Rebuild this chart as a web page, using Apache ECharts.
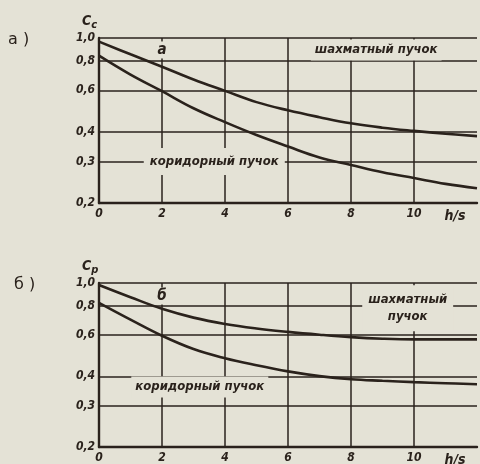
<!DOCTYPE html>
<html><head><meta charset="utf-8">
<script src="https://cdn.jsdelivr.net/npm/echarts@6/dist/echarts.min.js"></script>
<style>html,body{margin:0;padding:0;background:#e4e2d6;}#c{width:480px;height:464px;}</style>
</head><body><div id="c"></div>
<script>
// ---- data ----
const xValues = [0, 1, 2, 3, 4, 5, 6, 7, 8, 9, 10, 11, 12];
const xTicks = [0, 2, 4, 6, 8, 10, 12];
const xTickLabels = ['0', '2', '4', '6', '8', '10', ''];
const yTicks = [1.0, 0.8, 0.6, 0.4, 0.3, 0.2];
const yTickLabels = ['1,0', '0,8', '0,6', '0,4', '0,3', '0,2'];
// panel а: C_c
const aStaggered = [0.965, 0.853, 0.756, 0.667, 0.597, 0.535, 0.494, 0.462, 0.435, 0.417, 0.404, 0.393, 0.384];
const aInline    = [0.842, 0.70, 0.595, 0.504, 0.44, 0.388, 0.347, 0.312, 0.29, 0.27, 0.255, 0.241, 0.231];
// panel б: C_p
const bStaggered = [0.981, 0.870, 0.776, 0.712, 0.669, 0.640, 0.619, 0.602, 0.588, 0.579, 0.575, 0.575, 0.575];
const bInline    = [0.823, 0.698, 0.596, 0.523, 0.478, 0.446, 0.42, 0.401, 0.389, 0.383, 0.378, 0.374, 0.37];

const INK = '#2a221c';
const PAPER = '#e4e2d6';
const FONT = '"DejaVu Sans Condensed","DejaVu Sans",sans-serif';

const pairs = arr => xValues.map((x, i) => [x, arr[i]]);

function gridLines(idx) {
  return {
    type: 'line', xAxisIndex: idx, yAxisIndex: idx, data: [], z: 2, silent: true,
    markLine: {
      symbol: 'none', silent: true,
      lineStyle: { color: INK, width: 1.5, type: 'solid' },
      label: {
        position: 'start', distance: 4, color: INK, fontFamily: FONT,
        fontStyle: 'italic', fontWeight: 'bold', fontSize: 12,
        formatter: p => yTickLabels[yTicks.indexOf(p.value)]
      },
      data: yTicks.map(v => ({ yAxis: v }))
    }
  };
}

function curve(idx, arr) {
  return {
    type: 'line', xAxisIndex: idx, yAxisIndex: idx, data: pairs(arr),
    smooth: 0.4, showSymbol: false, z: 5, silent: true,
    lineStyle: { color: INK, width: 2.6 }
  };
}

function note(idx, items) {
  return {
    type: 'line', xAxisIndex: idx, yAxisIndex: idx, data: [], z: 3, silent: true,
    markPoint: {
      symbol: 'rect', symbolSize: 0, silent: true,
      data: items.map(it => ({
        coord: it.coord,
        label: Object.assign({
          show: true, position: 'inside', formatter: it.text,
          color: INK, fontFamily: FONT, fontStyle: 'italic', fontWeight: 'bold',
          fontSize: 13, backgroundColor: PAPER, lineHeight: 17
        }, it.style || {})
      }))
    }
  };
}

const xAxisBase = (idx) => ({
  gridIndex: idx, type: 'value', min: 0, max: 12, interval: 2,
  axisLine: { show: true, lineStyle: { color: INK, width: 2.4 } },
  axisTick: { show: false },
  splitLine: { show: true, showMinLine: false, showMaxLine: false, lineStyle: { color: INK, width: 1.5 } },
  axisLabel: {
    color: INK, fontFamily: FONT, fontStyle: 'italic', fontWeight: 'bold', fontSize: 12, margin: 5,
    formatter: v => xTickLabels[xTicks.indexOf(v)]
  }
});
const yAxisBase = (idx, name) => ({
  gridIndex: idx, type: 'log', logBase: 10, min: 0.2, max: 1.0,
  axisLine: { show: true, onZero: false, lineStyle: { color: INK, width: 2.4 } },
  axisTick: { show: false }, axisLabel: { show: false }, splitLine: { show: false },
  name: name, nameLocation: 'end', nameGap: 7,
  nameTextStyle: {
    color: INK, fontFamily: FONT, fontStyle: 'italic', fontWeight: 'bold', fontSize: 14,
    align: 'left', padding: [0, 0, 0, -17],
    rich: { s: { fontSize: 11, fontStyle: 'italic', fontWeight: 'bold', color: INK, fontFamily: FONT, verticalAlign: 'bottom', padding: [8, 0, 0, 0] } }
  }
});

const chart = echarts.init(document.getElementById('c'), null, { renderer: 'canvas' });
chart.setOption({
  backgroundColor: PAPER,
  animation: false,
  grid: [
    { left: 99, top: 38, right: 1, height: 165 },
    { left: 99, top: 283, right: 1, height: 168 }
  ],
  xAxis: [xAxisBase(0), xAxisBase(1)],
  yAxis: [yAxisBase(0, 'C{s|c}'), yAxisBase(1, 'C{s|p}')],
  graphic: [
    { type: 'text', left: 8, top: 32, style: { text: 'а )', font: '16px "DejaVu Sans"', fill: INK } },
    { type: 'text', left: 14, top: 277, style: { text: 'б )', font: '16px "DejaVu Sans"', fill: INK } }
  ],
  series: [
    gridLines(0), gridLines(1),
    note(0, [
      { coord: [2, 0.89], text: 'а', style: { padding: [0, 2, 0, 2], fontSize: 15 } },
      { coord: [8.8, 0.89], text: 'шахматный пучок', style: { padding: [2, 4, 2, 4] } },
      { coord: [3.66, 0.3], text: 'коридорный пучок', style: { padding: [5, 6, 5, 6] } },
      { coord: [11.3, 0.2], text: 'h/s', style: { offset: [0, 13], fontSize: 14, backgroundColor: 'transparent' } }
    ]),
    note(1, [
      { coord: [2, 0.88], text: 'б', style: { padding: [0, 2, 0, 2], fontSize: 15 } },
      { coord: [9.8, 0.78], text: 'шахматный\nпучок', style: { padding: [8, 6, 4, 6], lineHeight: 17 } },
      { coord: [3.2, 0.36], text: 'коридорный пучок', style: { padding: [2, 4, 2, 4] } },
      { coord: [11.3, 0.2], text: 'h/s', style: { offset: [0, 13], fontSize: 14, backgroundColor: 'transparent' } }
    ]),
    curve(0, aStaggered), curve(0, aInline),
    curve(1, bStaggered), curve(1, bInline)
  ]
});
</script></body></html>
